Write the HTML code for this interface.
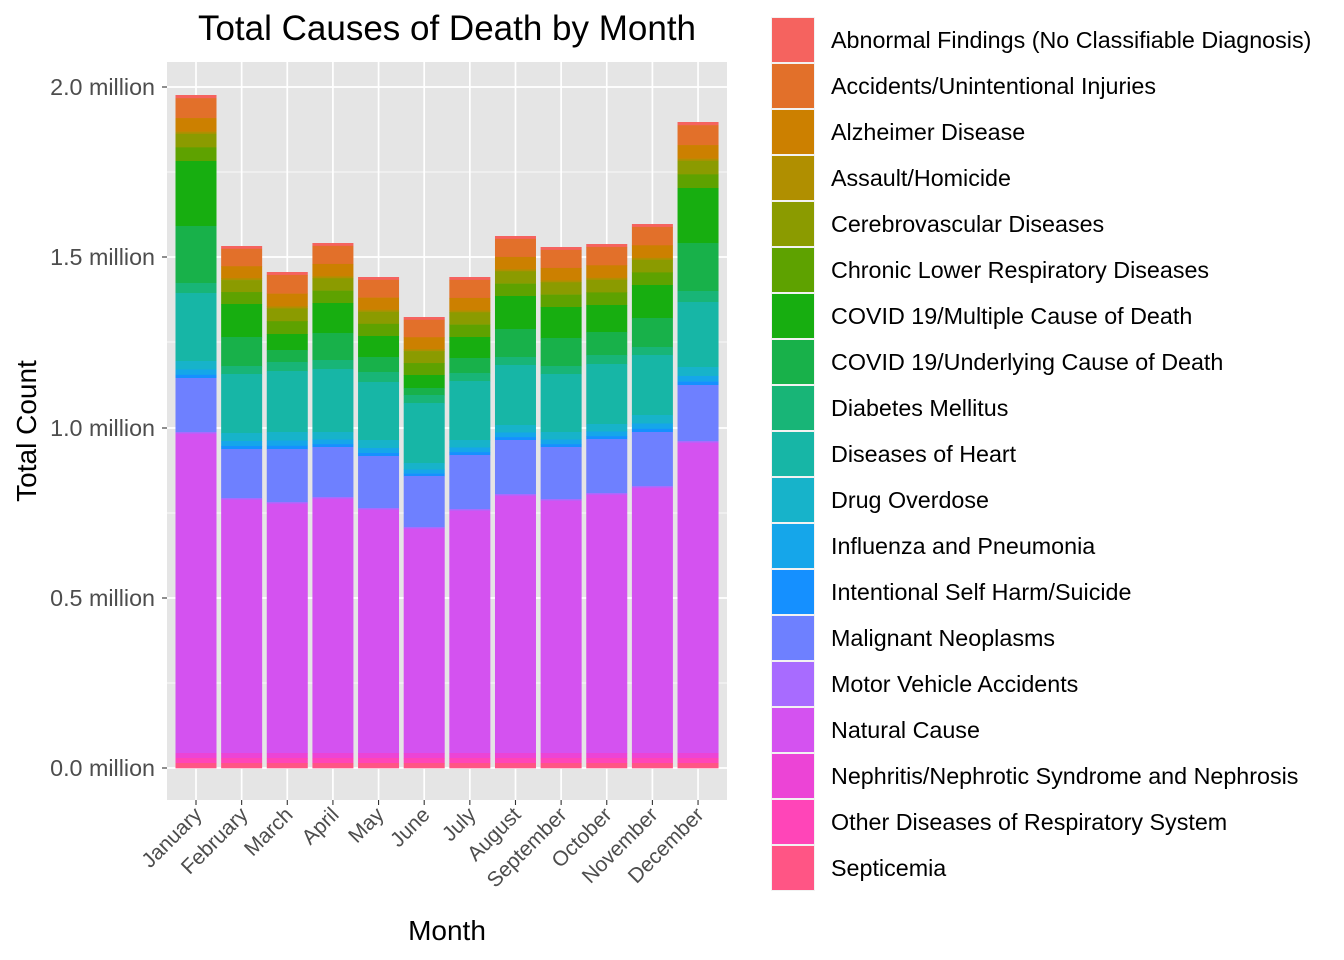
<!DOCTYPE html>
<html><head><meta charset="utf-8"><style>body{margin:0;background:#fff}svg{display:block;font-family:"Liberation Sans",Arial,sans-serif}</style></head>
<body>
<svg id="s" width="1344" height="960" viewBox="0 0 1344 960">
<rect x="167" y="62" width="560" height="738" fill="#e5e5e5"/>
<g stroke="#fff" stroke-width="0.8">
<line x1="167" x2="727" y1="683" y2="683"/><line x1="167" x2="727" y1="513" y2="513"/><line x1="167" x2="727" y1="342" y2="342"/><line x1="167" x2="727" y1="172" y2="172"/>
</g>
<g stroke="#fff" stroke-width="1.7" id="grid">
<line x1="167" x2="727" y1="768" y2="768"/><line x1="167" x2="727" y1="598" y2="598"/><line x1="167" x2="727" y1="428" y2="428"/><line x1="167" x2="727" y1="257" y2="257"/><line x1="167" x2="727" y1="87" y2="87"/>
</g>
<g id="bars"></g>
<g font-size="23.3" fill="#4d4d4d" text-anchor="end">
<text x="155" y="776">0.0 million</text><text x="155" y="606">0.5 million</text><text x="155" y="436">1.0 million</text><text x="155" y="265">1.5 million</text><text x="155" y="95">2.0 million</text>
</g>
<g stroke="#333" stroke-width="1.1" id="ticks">
<line x1="162" x2="167" y1="768" y2="768"/><line x1="162" x2="167" y1="598" y2="598"/><line x1="162" x2="167" y1="428" y2="428"/><line x1="162" x2="167" y1="257" y2="257"/><line x1="162" x2="167" y1="87" y2="87"/>
</g>
<g font-size="21" fill="#4d4d4d" text-anchor="end">
<text transform="translate(203,816) rotate(-45)">January</text>
<text transform="translate(249,816) rotate(-45)">February</text>
<text transform="translate(294,816) rotate(-45)">March</text>
<text transform="translate(340,816) rotate(-45)">April</text>
<text transform="translate(385,816) rotate(-45)">May</text>
<text transform="translate(431,816) rotate(-45)">June</text>
<text transform="translate(477,816) rotate(-45)">July</text>
<text transform="translate(522,816) rotate(-45)">August</text>
<text transform="translate(568,816) rotate(-45)">September</text>
<text transform="translate(613,816) rotate(-45)">October</text>
<text transform="translate(659,816) rotate(-45)">November</text>
<text transform="translate(705,816) rotate(-45)">December</text>
</g>
<text x="447" y="40" font-size="35" text-anchor="middle" fill="#000">Total Causes of Death by Month</text>
<text x="447" y="940" font-size="28" text-anchor="middle" fill="#000">Month</text>
<text transform="translate(36,431) rotate(-90)" font-size="28" text-anchor="middle" fill="#000">Total Count</text>
<g id="leg"></g>
<g font-size="23.3" fill="#000">
<text x="831" y="48">Abnormal Findings (No Classifiable Diagnosis)</text>
<text x="831" y="94">Accidents/Unintentional Injuries</text>
<text x="831" y="140">Alzheimer Disease</text>
<text x="831" y="186">Assault/Homicide</text>
<text x="831" y="232">Cerebrovascular Diseases</text>
<text x="831" y="278">Chronic Lower Respiratory Diseases</text>
<text x="831" y="324">COVID 19/Multiple Cause of Death</text>
<text x="831" y="370">COVID 19/Underlying Cause of Death</text>
<text x="831" y="416">Diabetes Mellitus</text>
<text x="831" y="462">Diseases of Heart</text>
<text x="831" y="508">Drug Overdose</text>
<text x="831" y="554">Influenza and Pneumonia</text>
<text x="831" y="600">Intentional Self Harm/Suicide</text>
<text x="831" y="646">Malignant Neoplasms</text>
<text x="831" y="692">Motor Vehicle Accidents</text>
<text x="831" y="738">Natural Cause</text>
<text x="831" y="784">Nephritis/Nephrotic Syndrome and Nephrosis</text>
<text x="831" y="830">Other Diseases of Respiratory System</text>
<text x="831" y="876">Septicemia</text>
</g>
</svg>
<script>
var C=["#F5635F","#E2702A","#CC8000","#B08F00","#8B9B00","#5EA200","#17AE10","#18B14A","#18B577","#17B6A6","#17B3CA","#15A6EA","#1590FF","#6E80FF","#A86BFF","#D452F0","#EC44D6","#FF45B8","#FF5585"];
var ns="http://www.w3.org/2000/svg";
function R(p,x,y,w,h,f){var r=document.createElementNS(ns,"rect");r.setAttribute("x",x);r.setAttribute("y",y);r.setAttribute("width",w);r.setAttribute("height",Math.max(h,0));r.setAttribute("fill",f);p.appendChild(r);}
var g=document.getElementById("grid"),tk=document.getElementById("ticks");
var D=[[95,161,226,283,293,361,378,432],[246,304,337,366,374,433,449,498],[272,334,350,362,371,432,449,502],[243,303,333,360,369,432,447,497],[277,336,357,372,382,440,456,508],[317,375,388,395,403,463,476,527],[277,337,358,373,381,440,455,509],[236,296,329,357,365,425,440,494],[247,307,338,366,374,432,447,499],[244,305,332,355,364,424,439,493],[224,285,318,347,355,415,432,486],[122,188,243,291,302,367,385,441]];
var bars=document.getElementById("bars");
for(var i=0;i<12;i++){var cx=196+i*45.64;
 var l=document.createElementNS(ns,"line");l.setAttribute("x1",cx);l.setAttribute("x2",cx);l.setAttribute("y1",62);l.setAttribute("y2",800);g.appendChild(l);
 var t=document.createElementNS(ns,"line");t.setAttribute("x1",cx);t.setAttribute("x2",cx);t.setAttribute("y1",800);t.setAttribute("y2",805);tk.appendChild(t);
 var d=D[i],x=cx-20.5,w=41,segs=[];
 var up=[3,19,13,2,13,13],us=63,uh=d[1]-d[0],y=d[0];
 for(var k=0;k<6;k++){var h=uh*up[k]/us;segs.push([y,h]);y+=h;}
 segs.push([d[1],d[2]-d[1]]);segs.push([d[2],d[3]-d[2]]);segs.push([d[3],d[4]-d[3]]);segs.push([d[4],d[5]-d[4]]);
 var sh=d[6]-d[5];y=d[5];[8,5,3].forEach(function(f){var h=sh*f/16;segs.push([y,h]);y+=h;});
 segs.push([d[6],d[7]-d[6]]);segs.push([d[7],1.5]);segs.push([d[7]+1.5,753-d[7]-1.5]);
 segs.push([753,5]);segs.push([758,5]);segs.push([763,5]);
 for(var k=0;k<19;k++)R(bars,x,segs[k][0],w,segs[k][1]+0.3,C[k]);
}
var lg=document.getElementById("leg");
for(var k=0;k<19;k++){R(lg,771,17+k*46,44,46,"#f2f2f2");R(lg,772,18+k*46,42,44,C[k]);}
</script>
</body></html>
